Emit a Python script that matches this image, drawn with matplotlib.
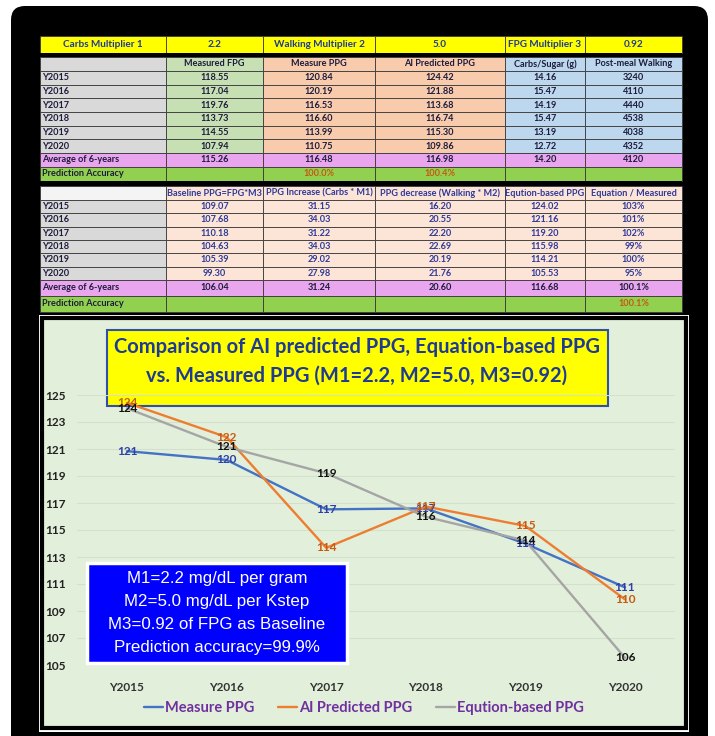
import matplotlib
matplotlib.use('Agg')
import matplotlib.pyplot as plt
from matplotlib.patches import Rectangle, FancyBboxPatch

plt.rcParams['font.family'] = ['Lato', 'DejaVu Sans']

# ---- data ----
years = ['Y2015', 'Y2016', 'Y2017', 'Y2018', 'Y2019', 'Y2020']
multipliers = ['Carbs Multiplier 1', '2.2', 'Walking Multiplier 2', '5.0', 'FPG Multiplier 3', '0.92']

head1 = ['', 'Measured FPG', 'Measure PPG', 'AI Predicted PPG', 'Carbs/Sugar (g)', 'Post-meal Walking']
measured_fpg = [118.55, 117.04, 119.76, 113.73, 114.55, 107.94]
measure_ppg = [120.84, 120.19, 116.53, 116.60, 113.99, 110.75]
ai_ppg = [124.42, 121.88, 113.68, 116.74, 115.30, 109.86]
carbs = [14.16, 15.47, 14.19, 15.47, 13.19, 12.72]
walking = [3240, 4110, 4440, 4538, 4038, 4352]
avg1 = ['115.26', '116.48', '116.98', '14.20', '4120']
acc1 = ['', '100.0%', '100.4%', '', '']

head2 = ['', 'Baseline PPG=FPG*M3', 'PPG Increase (Carbs * M1)', 'PPG decrease (Walking * M2)',
         'Eqution-based PPG', 'Equation / Measured']
baseline = [109.07, 107.68, 110.18, 104.63, 105.39, 99.30]
ppg_inc = [31.15, 34.03, 31.22, 34.03, 29.02, 27.98]
ppg_dec = [16.20, 20.55, 22.20, 22.69, 20.19, 21.76]
eq_ppg = [124.02, 121.16, 119.20, 115.98, 114.21, 105.53]
eq_ratio = ['103%', '101%', '102%', '99%', '100%', '95%']
avg2 = ['106.04', '31.24', '20.60', '116.68', '100.1%']
acc2 = ['', '', '', '', '100.1%']

chart_title = ['Comparison of AI predicted PPG, Equation-based PPG',
               'vs. Measured PPG (M1=2.2, M2=5.0, M3=0.92)']
note_lines = ['M1=2.2 mg/dL per gram', 'M2=5.0 mg/dL per Kstep',
              'M3=0.92 of FPG as Baseline', 'Prediction accuracy=99.9%']
series_names = ['Measure PPG', 'AI Predicted PPG', 'Eqution-based PPG']

# ---- figure ----
fig = plt.figure(figsize=(7.15, 7.36), dpi=100)
bg = fig.add_axes([0, 0, 1, 1])
bg.set_xlim(0, 715)
bg.set_ylim(736, 0)
bg.axis('off')

bg.add_patch(FancyBboxPatch((11, 6), 697, 780, boxstyle='round,pad=0,rounding_size=14',
                            fc='black', ec='none'))

cols = [40, 166, 263, 375, 505, 585, 682]
NAVY = '#1F3A93'
DARK = '#1C1C3C'
BLUE_TXT = '#2E3A9A'
ACC_TXT = '#C65911'


def row(y0, y1, texts, fills, colors, first_left=True, size=6.6):
    for i in range(6):
        x0, x1 = cols[i], cols[i + 1]
        bg.add_patch(Rectangle((x0, y0), x1 - x0, y1 - y0, fc=fills[i], ec='#3a3a3a', lw=0.6))
        t = texts[i]
        if not t:
            continue
        if i == 0 and first_left:
            bg.text(x0 + 2, (y0 + y1) / 2, t, ha='left', va='center', fontsize=size,
                    fontweight='bold', color=colors[i])
        else:
            bg.text((x0 + x1) / 2, (y0 + y1) / 2, t, ha='center', va='center', fontsize=size,
                    fontweight='bold', color=colors[i])


# table 1
row(36, 53, multipliers, ['#FFFF00'] * 6, [NAVY] * 6, first_left=False, size=7.2)
bg.add_patch(Rectangle((40, 53), 642, 4, fc='black', ec='none'))
fills1 = ['#D9D9D9', '#C6E0B4', '#F8CBAD', '#F8CBAD', '#BDD7EE', '#BDD7EE']
row(57, 71, head1, fills1, [DARK] * 6)
h = (153 - 71) / 6
for k, yr in enumerate(years):
    vals = [yr, f'{measured_fpg[k]:.2f}', f'{measure_ppg[k]:.2f}', f'{ai_ppg[k]:.2f}',
            f'{carbs[k]:.2f}', str(walking[k])]
    row(71 + k * h, 71 + (k + 1) * h, vals, fills1, [DARK] * 6)
row(153, 167, ['Average of 6-years'] + avg1, ['#E9A6EE'] * 6, [DARK] * 6)
row(167, 181, ['Prediction Accuracy'] + acc1, ['#92D050'] * 6, [DARK] + [ACC_TXT] * 5)

# table 2
bg.add_patch(Rectangle((40, 181), 642, 5, fc='black', ec='none'))
fills2 = ['#D9D9D9'] + ['#FCE4D6'] * 5
row(186, 200, head2, ['#F4F4F4'] + ['#FCE4D6'] * 5, [BLUE_TXT] * 6)
h = (280 - 200) / 6
for k, yr in enumerate(years):
    vals = [yr, f'{baseline[k]:.2f}', f'{ppg_inc[k]:.2f}', f'{ppg_dec[k]:.2f}',
            f'{eq_ppg[k]:.2f}', eq_ratio[k]]
    row(200 + k * h, 200 + (k + 1) * h, vals, fills2, [DARK] + [BLUE_TXT] * 5)
row(280, 296, ['Average of 6-years'] + avg2, ['#E9A6EE'] * 6, [DARK] * 6)
row(296, 312, ['Prediction Accuracy'] + acc2, ['#92D050'] * 6, [DARK] + [ACC_TXT] * 5)

# chart frame
bg.add_patch(Rectangle((39, 315), 650, 417, fc='white', ec='none'))
bg.add_patch(Rectangle((42, 318), 644, 410, fc='#E2EFDA', ec='black', lw=3))

# title box
bg.add_patch(Rectangle((107, 330), 501, 76, fc='#FFFF00', ec='#2F4FA8', lw=1.5))
bg.text(357, 347, chart_title[0], ha='center', va='center', fontsize=14.5,
        fontweight='bold', color=NAVY)
bg.text(357, 376, chart_title[1], ha='center', va='center', fontsize=14.5,
        fontweight='bold', color=NAVY)

# ---- line chart ----
ax = fig.add_axes([77.2 / 715, 71 / 736, 597.6 / 715, 270 / 736])
ax.set_facecolor('none')
x = list(range(len(years)))
series = [measure_ppg, ai_ppg, eq_ppg]
line_colors = ['#4472C4', '#ED7D31', '#A5A5A5']
label_colors = ['#2F3FA8', '#C55A11', '#111111']
for vals, lc, tc, name in zip(series, line_colors, label_colors, series_names):
    ax.plot(x, vals, color=lc, lw=1.7, label=name, solid_capstyle='round')
    for xi, v in zip(x, vals):
        ax.text(xi, v, f'{v:.0f}', ha='center', va='center', fontsize=8.5,
                fontweight='bold', color=tc)

ax.set_xlim(-0.5, 5.5)
ax.set_ylim(105, 125)
ax.set_yticks(range(105, 126, 2))
ax.set_xticks(x)
ax.set_xticklabels(years)
ax.tick_params(length=0, labelsize=8.5)
ax.tick_params(axis='x', pad=12, colors='#333333')
ax.tick_params(axis='y', pad=8, colors='#222222')
for lab in ax.get_xticklabels() + ax.get_yticklabels():
    lab.set_fontweight('bold')
ax.grid(axis='y', color='#D3E0CB', lw=0.8)
ax.set_axisbelow(True)
for s in ax.spines.values():
    s.set_visible(False)

leg = fig.legend(loc='center', bbox_to_anchor=(364 / 715, 1 - 708 / 736), ncol=3,
                 frameon=False, handlelength=1.3, handletextpad=0.15, columnspacing=1.6,
                 prop={'weight': 'bold', 'size': 10.5})
for t in leg.get_texts():
    t.set_color('#7030A0')

# note box on an overlay so it sits above the gridlines
top = fig.add_axes([0, 0, 1, 1], zorder=10)
top.set_xlim(0, 715)
top.set_ylim(736, 0)
top.axis('off')
top.add_patch(Rectangle((87, 563), 260, 100, fc='#0000FF', ec='white', lw=2.5))
for i, line in enumerate(note_lines):
    top.text(217, 579 + i * 22.7, line, ha='center', va='center', fontsize=12.2,
             color='white', family='Liberation Sans')

fig.savefig('out.png', dpi=100)
